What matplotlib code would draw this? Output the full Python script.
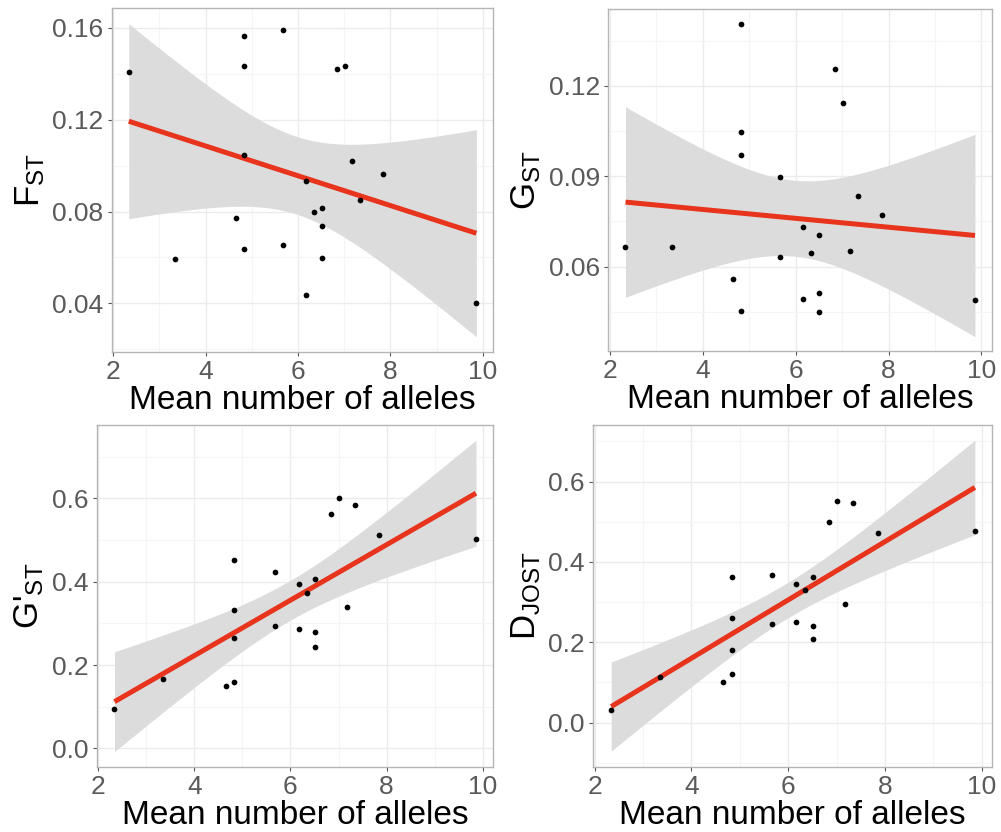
import numpy as np
import matplotlib
matplotlib.use('Agg')
import matplotlib.pyplot as plt
from matplotlib.ticker import MultipleLocator, FormatStrFormatter

plt.rcParams['font.family'] = ['Liberation Sans', 'DejaVu Sans']
plt.rcParams['mathtext.fontset'] = 'custom'
plt.rcParams['mathtext.rm'] = 'Liberation Sans'
plt.rcParams['mathtext.it'] = 'Liberation Sans:italic'

# mean number of alleles per population (same for every panel)
alleles = [2.34, 3.34, 4.66, 4.83, 4.83, 4.83, 4.83, 5.67, 5.67, 6.17, 6.17,
           6.34, 6.51, 6.51, 6.51, 6.84, 7.01, 7.18, 7.35, 7.85, 9.86]

fst = [0.1407, 0.0595, 0.0771, 0.1567, 0.1436, 0.0637, 0.1045, 0.1593, 0.0656,
       0.0931, 0.0438, 0.0797, 0.0815, 0.0739, 0.0599, 0.1421, 0.1436, 0.1018,
       0.0851, 0.0963, 0.0403]
gst = [0.0666, 0.0666, 0.0559, 0.1405, 0.1046, 0.0969, 0.0454, 0.0898, 0.0633,
       0.0732, 0.0492, 0.0644, 0.0704, 0.0513, 0.0449, 0.1255, 0.1142, 0.0653,
       0.0836, 0.0772, 0.0488]
gst_prime = [0.095, 0.167, 0.150, 0.160, 0.451, 0.333, 0.265, 0.424, 0.294,
             0.394, 0.286, 0.372, 0.407, 0.279, 0.243, 0.562, 0.602, 0.340,
             0.583, 0.511, 0.502]
djost = [0.031, 0.114, 0.100, 0.120, 0.180, 0.261, 0.362, 0.368, 0.246,
         0.346, 0.250, 0.329, 0.363, 0.241, 0.208, 0.500, 0.552, 0.295,
         0.546, 0.471, 0.478]

W, H = 1001, 832
fig = plt.figure(figsize=(W / 100, H / 100), dpi=100)


def panel(box, y, ylabel, ylim, yticks, fmt):
    l, t, r, b = box
    ax = fig.add_axes([l / W, 1 - b / H, (r - l) / W, (b - t) / H])
    x = np.array(alleles)
    y = np.array(y)
    n = len(x)
    slope, icpt = np.polyfit(x, y, 1)
    resid = y - (icpt + slope * x)
    s = np.sqrt(np.sum(resid ** 2) / (n - 2))
    sxx = np.sum((x - x.mean()) ** 2)
    xs = np.linspace(x.min(), x.max(), 80)
    fit = icpt + slope * xs
    se = s * np.sqrt(1 / n + (xs - x.mean()) ** 2 / sxx)
    tq = 2.093  # t(0.975, df=19)
    ax.fill_between(xs, fit - tq * se, fit + tq * se, color='#dcdcdc',
                    lw=0, zorder=2)
    ax.plot(xs, fit, color='#e8341c', lw=3.6, zorder=3, solid_capstyle='butt')
    ax.scatter(x, y, s=17, color='black', zorder=4, lw=0)

    ax.set_xlim(1.97, 10.22)
    ax.set_ylim(*ylim)
    ax.set_xticks([2, 4, 6, 8, 10])
    ax.xaxis.set_minor_locator(MultipleLocator(1))
    ax.set_yticks(yticks)
    ax.yaxis.set_minor_locator(MultipleLocator((yticks[1] - yticks[0]) / 2))
    ax.yaxis.set_major_formatter(FormatStrFormatter(fmt))
    ax.grid(which='major', color='#ebebeb', lw=1.0, zorder=0)
    ax.grid(which='minor', color='#f5f5f5', lw=0.8, zorder=0)
    ax.set_axisbelow(True)
    ax.tick_params(which='major', length=3, width=0.8, color='#555555',
                   labelsize=19, labelcolor='#5a5a5a', pad=3)
    ax.tick_params(which='minor', length=0)
    for sp in ax.spines.values():
        sp.set_color('#b5b5b5')
        sp.set_linewidth(1.0)
    ax.set_xlabel('Mean number of alleles', fontsize=24, labelpad=1)
    ax.set_ylabel(ylabel, fontsize=25, labelpad=4)
    return ax


panel((111.7, 8, 493, 351.7), fst, r'$\mathrm{F_{ST}}$',
      (0.0189, 0.1687), [0.04, 0.08, 0.12, 0.16], '%.2f')
panel((608.3, 9, 991.7, 350.7), gst, r'$\mathrm{G_{ST}}$',
      (0.0321, 0.1455), [0.06, 0.09, 0.12], '%.2f')
panel((96.7, 425, 493.3, 766.7), gst_prime, r"G'$\mathrm{_{ST}}$",
      (-0.044, 0.776), [0.0, 0.2, 0.4, 0.6], '%.1f')
panel((593.3, 425, 992.3, 766.7), djost, r'$\mathrm{D_{JOST}}$',
      (-0.110, 0.741), [0.0, 0.2, 0.4, 0.6], '%.1f')

fig.savefig('out.png', dpi=100)
